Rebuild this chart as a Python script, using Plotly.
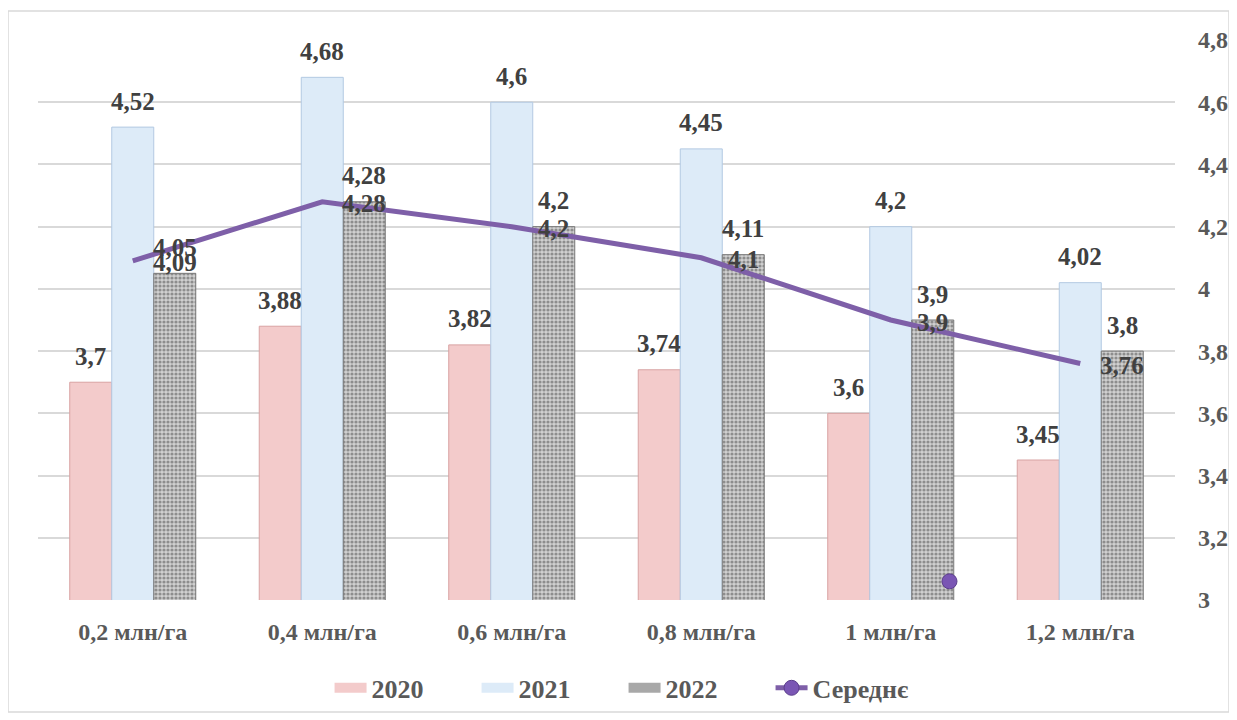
import plotly.graph_objects as go

categories = ["0,2 млн/га", "0,4 млн/га", "0,6 млн/га", "0,8 млн/га", "1 млн/га", "1,2 млн/га"]
y2020 = [3.7, 3.88, 3.82, 3.74, 3.6, 3.45]
y2021 = [4.52, 4.68, 4.6, 4.45, 4.2, 4.02]
y2022 = [4.05, 4.28, 4.2, 4.11, 3.9, 3.8]
avg = [4.09, 4.28, 4.2, 4.1, 3.9, 3.76]
stray_x = [4.31]
stray_y = [3.06]
yticks = [3, 3.2, 3.4, 3.6, 3.8, 4, 4.2, 4.4, 4.6, 4.8]

xs = list(range(len(categories)))
FONT = "Times New Roman, Liberation Serif, serif"
LBL = dict(family=FONT, size=25, color="#404040", weight="bold")
TICK = dict(family=FONT, size=24, color="#595959", weight="bold")
LEG = dict(family=FONT, size=26, color="#595959", weight="bold")
BARW = 0.222  # group width split into 3 bars
PURPLE = "#7E5FA8"

def fmt(v):
    return f"{v:g}".replace(".", ",")

series = [
    ("2020", y2020, "#F3CBCB", "#D8A3A3", -BARW),
    ("2021", y2021, "#DDEBF8", "#B3C9E2", 0.0),
    ("2022", y2022, "#C4C4C4", "#777777", BARW),
]

fig = go.Figure()
for name, vals, col, edge, off in series:
    mk = dict(color=col, line=dict(color=edge, width=1))
    if name == "2022":
        mk["pattern"] = dict(shape=".", fgcolor="#4a4a4a", bgcolor="#D0D0D0", size=4, solidity=0.5)
    fig.add_trace(go.Bar(x=xs, y=vals, name=name, marker=mk, showlegend=False))

fig.add_trace(go.Scatter(
    x=xs, y=avg, mode="lines", showlegend=False,
    line=dict(color=PURPLE, width=5),
))

# legend proxies (wide rectangles like the reference)
for name, vals, col, edge, off in series:
    fig.add_trace(go.Scatter(x=[None], y=[None], mode="lines", name=name,
                             line=dict(color=col if name != "2022" else "#A8A8A8", width=12)))

# stray marker (also serves as legend entry for the average line)
fig.add_trace(go.Scatter(
    x=stray_x, y=stray_y, mode="lines+markers", name="Середнє",
    line=dict(color=PURPLE, width=5),
    marker=dict(color="#7A56B4", size=15, line=dict(color="#5B3E8C", width=1)),
))

annotations = []
for name, vals, col, edge, off in series:
    for i, v in zip(xs, vals):
        annotations.append(dict(x=i + off, y=v, text=fmt(v), showarrow=False,
                                xanchor="center", yanchor="middle", yshift=26, font=LBL))
for i, v in zip(xs, avg):
    annotations.append(dict(x=i + BARW, y=v, text=fmt(v), showarrow=False,
                            xanchor="center", yanchor="middle", yshift=-2, font=LBL))

fig.update_layout(
    width=1229, height=712,
    margin=dict(l=30, r=62, t=32, b=120, autoexpand=False),
    paper_bgcolor="white", plot_bgcolor="white",
    barmode="group", bargap=0.335, bargroupgap=0,
    separators=", ",
    font=dict(family=FONT, size=20, color="#595959"),
    showlegend=True,
    annotations=annotations,
    legend=dict(orientation="h", x=0.515, xanchor="center", y=-0.115, yanchor="top",
                font=LEG, traceorder="normal", itemwidth=32,
                entrywidth=100, entrywidthmode="pixels"),
    xaxis=dict(range=[-0.5, 5.5], tickvals=xs, ticktext=categories, showgrid=False,
               zeroline=False, showline=False, ticks="", automargin=False,
               tickfont=TICK, ticklabelstandoff=15),
    yaxis=dict(range=[3, 4.8], tickvals=yticks, side="right", showgrid=True,
               gridcolor="#D9D9D9", gridwidth=1.5, zeroline=False, showline=False, ticks="",
               automargin=False, tickfont=TICK, ticklabelstandoff=22),
    shapes=[dict(type="rect", xref="paper", yref="paper",
                 x0=(0 - 30) / 1137, x1=(1221 - 30) / 1137,
                 y0=(592 - 704) / 560, y1=(592 - 3) / 560,
                 line=dict(color="#D9D9D9", width=1.5), fillcolor="rgba(0,0,0,0)", layer="below")],
)

fig.write_html("out.html")
